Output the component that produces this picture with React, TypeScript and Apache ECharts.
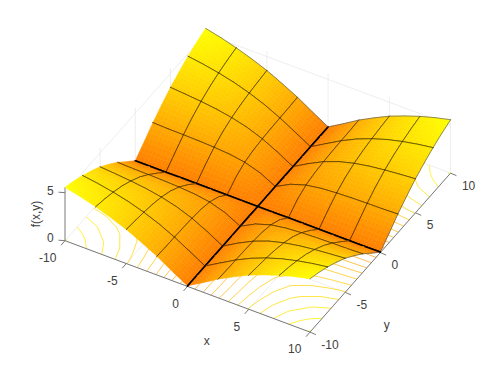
import React, { useEffect, useRef } from "react";
import * as echarts from "echarts";

const gridCoords = [-10, -8.75, -7.5, -6.25, -5, -3.75, -2.5, -1.25, 0, 1.25, 2.5, 3.75, 5, 6.25, 7.5, 8.75, 10];
// f(|x|,|y|) at |x|,|y| = 0, 1.25, ... 10
const quadrantValues = [
  [0.05, 0.05, 0.05, 0.05, 0.05, 0.05, 0.05, 0.05, 0.05],
  [0.05, 0.7, 0.88, 0.93, 0.96, 0.97, 0.97, 0.97, 0.98],
  [0.05, 0.88, 1.39, 1.64, 1.76, 1.83, 1.87, 1.89, 1.95],
  [0.05, 0.93, 1.64, 2.09, 2.36, 2.53, 2.64, 2.71, 2.78],
  [0.05, 0.96, 1.76, 2.36, 2.78, 3.07, 3.27, 3.42, 3.55],
  [0.05, 0.97, 1.83, 2.53, 3.07, 3.48, 3.78, 4.0, 4.17],
  [0.05, 0.97, 1.87, 2.64, 3.27, 3.78, 4.17, 4.48, 4.72],
  [0.05, 0.97, 1.89, 2.71, 3.42, 4.0, 4.48, 4.87, 5.18],
  [0.05, 0.98, 1.95, 2.78, 3.55, 4.17, 4.72, 5.18, 5.56],
];
const axisTicks = [-10, -5, 0, 5, 10];
const zTicks = [0, 5];
const zMax = 5.56;
const contourLevels = [0.5, 1, 1.5, 2, 2.5, 3, 3.5, 4, 4.5, 5, 5.5];
const xLabel = "x";
const yLabel = "y";
const zLabel = "f(x,y)";

const OX = 257.8, OY = 206.9;
const UX = [12.25, 4.57];
const UY = [7.03, -7.95];
const UZ = 9.6;
const SUB = 4;

const project = (x: number, y: number, z: number) => [
  OX + x * UX[0] + y * UY[0],
  OY + x * UX[1] + y * UY[1] - z * UZ,
];
const valueAt = (i: number, j: number) => quadrantValues[Math.abs(i - 8)][Math.abs(j - 8)];
const colorOf = (z: number) => {
  const t = Math.max(0, Math.min(1, z / zMax));
  return `rgb(255,${Math.round(125 + 130 * t)},0)`;
};
const contourColor = (z: number) => {
  const t = Math.max(0, Math.min(1, z / zMax));
  return `rgba(255,${Math.round(150 + 100 * t)},${Math.round(30 - 30 * t)},0.75)`;
};

// cells, painted far to near
const cells: number[][] = [];
for (let i = 0; i < 16; i++) for (let j = 0; j < 16; j++) cells.push([i, j]);
const depth = (c: number[]) =>
  -7.03 * (gridCoords[c[0]] + 0.625) + 12.25 * (gridCoords[c[1]] + 0.625);
cells.sort((a, b) => depth(b) - depth(a));

// contour segments by marching squares over the same table
const contourSegments: number[][] = [];
for (const level of contourLevels) {
  for (let i = 0; i < 16; i++) {
    for (let j = 0; j < 16; j++) {
      const corners = [
        [i, j],
        [i + 1, j],
        [i + 1, j + 1],
        [i, j + 1],
      ];
      const hits: number[][] = [];
      for (let k = 0; k < 4; k++) {
        const a = corners[k], b = corners[(k + 1) % 4];
        const za = valueAt(a[0], a[1]), zb = valueAt(b[0], b[1]);
        if (za < level !== zb < level) {
          const t = (level - za) / (zb - za);
          hits.push([
            gridCoords[a[0]] + t * (gridCoords[b[0]] - gridCoords[a[0]]),
            gridCoords[a[1]] + t * (gridCoords[b[1]] - gridCoords[a[1]]),
          ]);
        }
      }
      for (let h = 0; h + 1 < hits.length; h += 2) {
        contourSegments.push([hits[h][0], hits[h][1], hits[h + 1][0], hits[h + 1][1], level]);
      }
    }
  }
}

// wall and floor grid, as [x0,y0,z0,x1,y1,z1]
const wallLines: number[][] = [];
for (const t of axisTicks) {
  wallLines.push([t, -10, 0, t, 10, 0]);
  wallLines.push([-10, t, 0, 10, t, 0]);
  if (t > -10) wallLines.push([t, 10, 0, t, 10, zMax]);
  if (t < 10 && t > -10) wallLines.push([-10, t, 0, -10, t, zMax]);
}
for (const z of zTicks) {
  if (z > 0) {
    wallLines.push([-10, -10, z, -10, 10, z]);
    wallLines.push([-10, 10, z, 10, 10, z]);
  }
}
const axisLines = [
  [-10, -10, 0, 10, -10, 0],
  [10, -10, 0, 10, 10, 0],
  [-10, -10, 0, -10, -10, zMax],
];

const X_TICK = [-4, 4.6];
const Y_TICK = [5.8, 2.5];
const Z_TICK = [-6.5, -0.5];

export default function App() {
  const ref = useRef<HTMLDivElement>(null);
  useEffect(() => {
    document.body.style.margin = "0";
    document.body.style.background = "#fff";
    const chart = echarts.init(ref.current!, undefined, { renderer: "svg" });

    const font = { fontFamily: "Liberation Sans, Arial, sans-serif", fontSize: 12, fill: "#404040" };
    const text = (t: string, x: number, y: number, align: string, rotation = 0) => ({
      type: "text",
      x,
      y,
      rotation,
      silent: true,
      z: 100,
      style: { ...font, text: t, textAlign: align, textVerticalAlign: "middle" },
    });
    const labels: any[] = [];
    for (const t of axisTicks) {
      const px = project(t, -10, 0);
      labels.push(text(String(t), px[0] - 8.6, px[1] + 17.3, "right"));
      const py = project(10, t, 0);
      labels.push(text(String(t), py[0] + 11.3, py[1] + 12.4, "left"));
    }
    for (const z of zTicks) {
      const p = project(-10, -10, z);
      labels.push(text(String(z), p[0] - 11.4, p[1] - (z === 0 ? 3 : 1.4), "right"));
    }
    labels.push(text(xLabel, 206.7, 341, "center"));
    labels.push(text(yLabel, 386.7, 325, "center"));
    labels.push(text(zLabel, 36, 214, "center", Math.PI / 2));

    const line = (api: any, a: number[], b: number[], stroke: string, lineWidth: number) => {
      const p = api.coord(a), q = api.coord(b);
      return {
        type: "line",
        shape: { x1: p[0], y1: p[1], x2: q[0], y2: q[1] },
        style: { stroke, lineWidth, fill: "none" },
      };
    };

    const base = { type: "custom", coordinateSystem: "cartesian2d", silent: true, clip: false };
    chart.setOption({
      animation: false,
      backgroundColor: "#fff",
      grid: { left: 0, right: 0, top: 0, bottom: 0 },
      xAxis: { type: "value", min: 0, max: 498, show: false },
      yAxis: { type: "value", min: 0, max: 374, inverse: true, show: false },
      graphic: labels,
      series: [
        {
          ...base,
          name: "grid",
          data: wallLines,
          renderItem: (_: any, api: any) =>
            line(
              api,
              project(api.value(0), api.value(1), api.value(2)),
              project(api.value(3), api.value(4), api.value(5)),
              "#e6e6e6",
              0.7
            ),
        },
        {
          ...base,
          name: "contour",
          data: contourSegments,
          renderItem: (_: any, api: any) =>
            line(
              api,
              project(api.value(0), api.value(1), 0),
              project(api.value(2), api.value(3), 0),
              contourColor(api.value(4)),
              1
            ),
        },
        {
          ...base,
          name: "axes",
          data: axisLines,
          renderItem: (_: any, api: any) =>
            line(
              api,
              project(api.value(0), api.value(1), api.value(2)),
              project(api.value(3), api.value(4), api.value(5)),
              "#7a7a7a",
              1
            ),
        },
        {
          ...base,
          name: "ticks",
          data: [
            ...axisTicks.map((t) => [t, -10, 0, ...X_TICK]),
            ...axisTicks.map((t) => [10, t, 0, ...Y_TICK]),
            ...zTicks.map((z) => [-10, -10, z, ...Z_TICK]),
          ],
          renderItem: (_: any, api: any) => {
            const a = project(api.value(0), api.value(1), api.value(2));
            return line(api, a, [a[0] + api.value(3), a[1] + api.value(4)], "#7a7a7a", 1);
          },
        },
        {
          ...base,
          name: "f(x,y)",
          data: cells,
          renderItem: (_: any, api: any) => {
            const i = api.value(0), j = api.value(1);
            const idx = [
              [i, j],
              [i + 1, j],
              [i + 1, j + 1],
              [i, j + 1],
            ];
            const zs = idx.map((c) => valueAt(c[0], c[1]));
            const pts = idx.map((c, k) => api.coord(project(gridCoords[c[0]], gridCoords[c[1]], zs[k])));
            // shade the cell in small flat patches, bilinear between its four corners
            const patch = (u: number, v: number) => {
              const blend = (a: number[]) =>
                (1 - u) * (1 - v) * a[0] + u * (1 - v) * a[1] + u * v * a[2] + (1 - u) * v * a[3];
              return [blend(pts.map((p) => p[0])), blend(pts.map((p) => p[1])), blend(zs)];
            };
            const children: any[] = [];
            for (let a = 0; a < SUB; a++) {
              for (let b = 0; b < SUB; b++) {
                const q = [
                  patch(a / SUB, b / SUB),
                  patch((a + 1) / SUB, b / SUB),
                  patch((a + 1) / SUB, (b + 1) / SUB),
                  patch(a / SUB, (b + 1) / SUB),
                ];
                const c = colorOf((q[0][2] + q[1][2] + q[2][2] + q[3][2]) / 4);
                children.push({
                  type: "polygon",
                  shape: { points: q.map((p) => [p[0], p[1]]) },
                  style: { fill: c, stroke: c, lineWidth: 0.5 },
                });
              }
            }
            const edge = (a: number, b: number, onAxis: boolean, outer: boolean) => {
              children.push({
                type: "line",
                shape: { x1: pts[a][0], y1: pts[a][1], x2: pts[b][0], y2: pts[b][1] },
                style: {
                  stroke: onAxis ? "#000" : outer ? "#555" : "rgba(30,20,0,0.9)",
                  lineWidth: onAxis ? 1.6 : 0.65,
                  fill: "none",
                  lineCap: "round",
                },
              });
            };
            const meshX = (n: number) => n % 2 === 0 && n > 0;
            if (meshX(i)) edge(0, 3, i === 8, false);
            if (meshX(i + 1)) edge(1, 2, i + 1 === 8, i + 1 === 16);
            if (meshX(j)) edge(0, 1, j === 8, false);
            if (meshX(j + 1)) edge(3, 2, j + 1 === 8, j + 1 === 16);
            return { type: "group", children };
          },
        },
      ],
    });
    return () => chart.dispose();
  }, []);
  return <div ref={ref} style={{ width: 498, height: 374 }} />;
}
